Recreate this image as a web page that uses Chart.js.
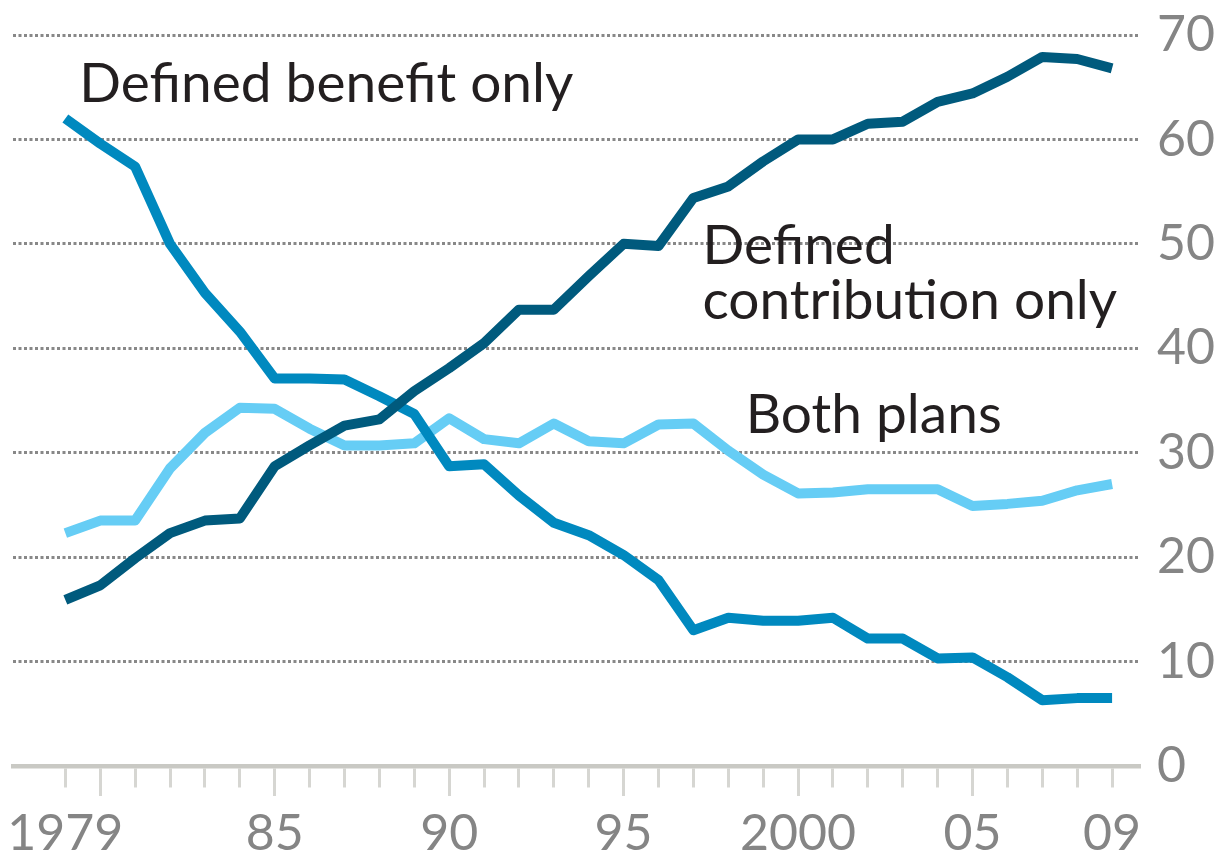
<!DOCTYPE html>
<html>
<head>
<meta charset="utf-8">
<script src="https://cdn.jsdelivr.net/npm/chart.js@4.4.1/dist/chart.umd.min.js"></script>
<style>
  html, body { margin: 0; padding: 0; background: #fff; }
  #wrap { width: 1217px; height: 858px; }
</style>
</head>
<body>
<div id="wrap"><canvas id="chart" width="1217" height="858"></canvas></div>
<script>
// years on the x axis
const years = [1979, 1980, 1981, 1982, 1983, 1984, 1985, 1986, 1987, 1988,
  1989, 1990, 1991, 1992, 1993, 1994, 1995, 1996, 1997, 1998,
  1999, 2000, 2001, 2002, 2003, 2004, 2005, 2006, 2007, 2008, 2009];

// % of workers
const definedBenefit = [62.0, 59.6, 57.4, 50.0, 45.3, 41.6, 37.1, 37.1, 37.0, 35.4,
  33.7, 28.7, 28.9, 25.9, 23.3, 22.1, 20.2, 17.8, 13.0, 14.2,
  13.9, 13.9, 14.2, 12.2, 12.2, 10.3, 10.4, 8.5, 6.3, 6.5, 6.5];
const definedContribution = [15.9, 17.3, 19.9, 22.3, 23.5, 23.7, 28.7, 30.7, 32.6, 33.2,
  35.9, 38.1, 40.5, 43.7, 43.7, 46.9, 50.0, 49.8, 54.4, 55.5,
  57.9, 60.0, 60.0, 61.5, 61.7, 63.6, 64.4, 66.0, 67.9, 67.7, 66.8];
const bothPlans = [22.3, 23.5, 23.5, 28.5, 31.9, 34.3, 34.2, 32.3, 30.7, 30.7,
  30.9, 33.3, 31.3, 30.9, 32.8, 31.1, 30.9, 32.7, 32.8, 30.2,
  27.9, 26.1, 26.2, 26.5, 26.5, 26.5, 24.9, 25.1, 25.4, 26.4, 27.0];

const yTicks = [0, 10, 20, 30, 40, 50, 60, 70];
const labelledYears = [1979, 1985, 1990, 1995, 2000, 2005, 2009];
const xTickLabels = ['1979', '85', '90', '95', '2000', '05', '09'];

// in-chart labels, placed by axis values
const notes = ['Defined benefit only', 'Defined', 'contribution only', 'Both plans'];
const noteYears = [1979.4, 1997.26, 1997.26, 1998.5];
const noteValues = [63.6, 48.1, 42.8, 31.9];

const numFont = { family: 'Lato, "DejaVu Sans Condensed", sans-serif', size: 50, lineHeight: 1 };

const notesPlugin = {
  id: 'notes',
  afterDraw(chart) {
    const ctx = chart.ctx;
    const xs = chart.scales.x, ys = chart.scales.y;
    ctx.save();
    ctx.font = '55px Lato, "Liberation Sans", sans-serif';
    ctx.fillStyle = '#231f20';
    ctx.textAlign = 'left';
    ctx.textBaseline = 'alphabetic';
    notes.forEach((t, i) => {
      ctx.fillText(t, xs.getPixelForValue(noteYears[i]), ys.getPixelForValue(noteValues[i]));
    });
    ctx.restore();
  }
};

function series(vals) {
  return years.map((y, i) => ({ x: y, y: vals[i] }));
}

const ctx = document.getElementById('chart').getContext('2d');
new Chart(ctx, {
  type: 'line',
  data: {
    datasets: [{
      label: 'Defined contribution only',
      data: series(definedContribution),
      borderColor: '#005a7d'
    }, {
      label: 'Defined benefit only',
      data: series(definedBenefit),
      borderColor: '#0089bf'
    }, {
      label: 'Both plans',
      data: series(bothPlans),
      borderColor: '#66cdf5'
    }]
  },
  options: {
    responsive: false,
    animation: false,
    events: [],
    layout: { padding: { left: 13, top: 35, right: 0, bottom: 0 } },
    elements: {
      line: { borderWidth: 10, tension: 0, borderJoinStyle: 'round', fill: false },
      point: { radius: 0 }
    },
    plugins: { legend: { display: false }, tooltip: { enabled: false } },
    scales: {
      x: {
        type: 'linear',
        min: 1977.5,
        max: 2009.8,
        afterBuildTicks: s => { s.ticks = years.map(v => ({ value: v })); },
        afterFit: s => { s.height = 92; s.paddingLeft = 0; s.paddingRight = 0; },
        ticks: {
          autoSkip: false,
          maxRotation: 0,
          padding: 13,
          color: '#858585',
          font: numFont,
          callback: v => {
            const k = labelledYears.indexOf(v);
            return k >= 0 ? xTickLabels[k] : '';
          }
        },
        grid: {
          drawOnChartArea: false,
          tickLength: 30,
          tickWidth: 3,
          tickColor: '#d6d6d2',
          tickBorderDash: c => (c.tick && c.tick.value % 5 === 0) ? [] : [19, 40]
        },
        border: { display: true, color: '#c9c9c4', width: 4.5 }
      },
      y: {
        position: 'right',
        min: 0,
        max: 70,
        afterBuildTicks: s => { s.ticks = yTicks.map(v => ({ value: v })); },
        afterFit: s => { s.width = 77; s.paddingTop = 0; s.paddingBottom = 0; },
        ticks: { padding: 17, color: '#858585', font: numFont },
        grid: {
          drawTicks: false,
          lineWidth: 3,
          color: c => (c.tick && c.tick.value === 0) ? 'rgba(0,0,0,0)' : '#888888'
        },
        border: { display: false, dash: [3, 2.5] }
      }
    }
  },
  plugins: [notesPlugin]
});
</script>
</body>
</html>
